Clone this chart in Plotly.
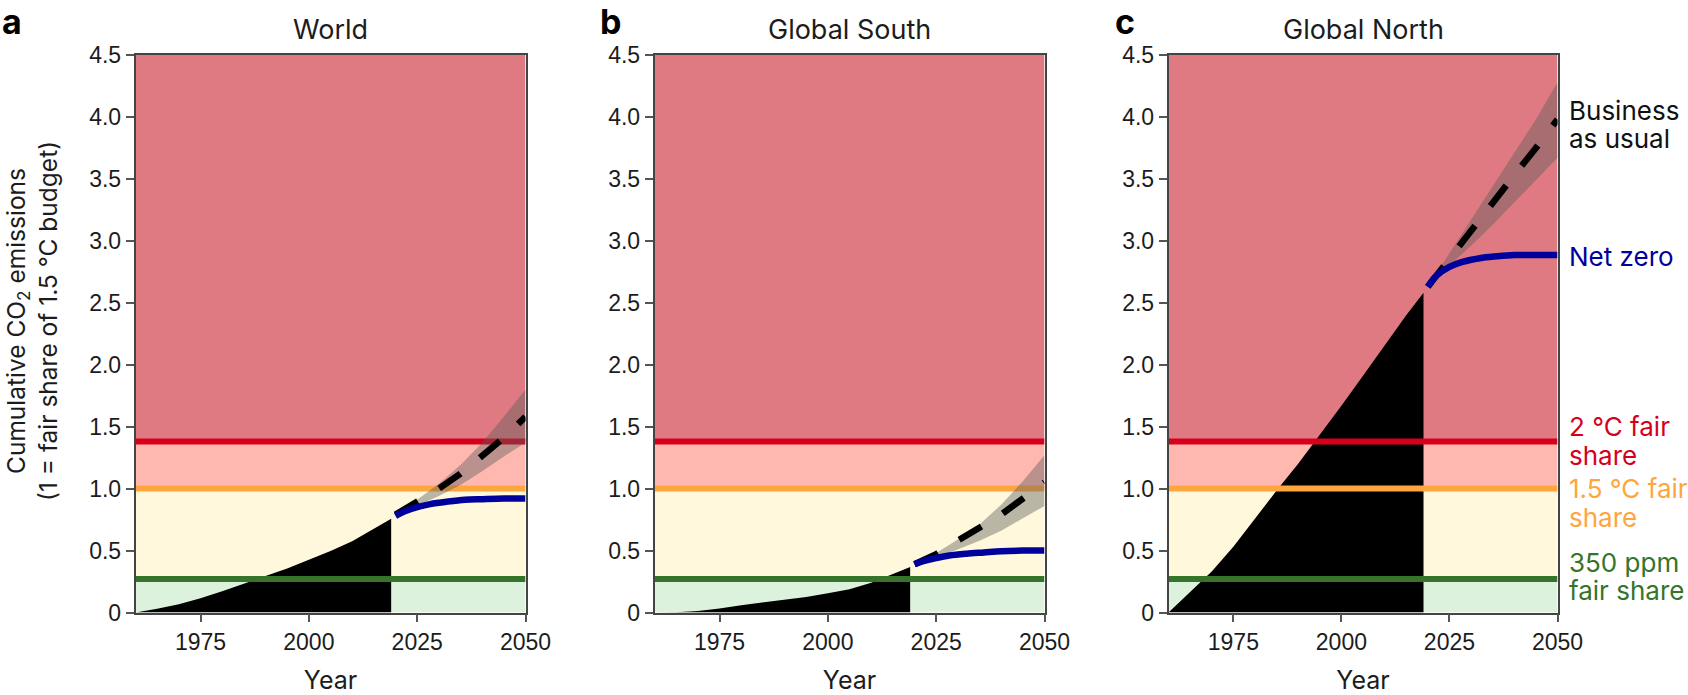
import plotly.graph_objects as go

# fair share levels (1 = 1.5 C budget)
level_350ppm = 0.27
level_15c = 1.0
level_2c = 1.38
y_max = 4.5

panel_titles = ["World", "Global South", "Global North"]
panel_letters = ["a", "b", "c"]

hist_years = [1960, 1965, 1970, 1975, 1980, 1985, 1990, 1995, 2000, 2005, 2010, 2015, 2019]
hist_world = [0, 0.03, 0.067, 0.115, 0.172, 0.233, 0.292, 0.355, 0.425, 0.496, 0.576, 0.675, 0.756]
hist_south = [0, 0.002, 0.013, 0.032, 0.059, 0.08, 0.1, 0.126, 0.155, 0.188, 0.241, 0.314, 0.367]
hist_north = [0, 0.166, 0.33, 0.53, 0.756, 0.984, 1.2, 1.43, 1.668, 1.91, 2.16, 2.4, 2.58]

fut_years = [2020, 2025, 2030, 2035, 2040, 2045, 2050]
bau_world = [0.79, 0.89, 1.0, 1.12, 1.26, 1.41, 1.58]
bau_low_world = [0.79, 0.86, 0.94, 1.03, 1.14, 1.26, 1.37]
bau_high_world = [0.79, 0.91, 1.04, 1.19, 1.37, 1.58, 1.8]
bau_south = [0.39, 0.47, 0.58, 0.68, 0.79, 0.92, 1.05]
bau_low_south = [0.39, 0.44, 0.51, 0.58, 0.66, 0.76, 0.86]
bau_high_south = [0.39, 0.48, 0.59, 0.71, 0.87, 1.06, 1.27]
bau_north = [2.63, 2.86, 3.07, 3.3, 3.53, 3.75, 3.98]
bau_low_north = [2.63, 2.8, 2.96, 3.13, 3.31, 3.49, 3.67]
bau_high_north = [2.63, 2.9, 3.16, 3.43, 3.7, 3.98, 4.28]

net_years = [2020, 2022, 2025, 2028, 2032, 2036, 2040, 2045, 2050]
net_world = [0.78, 0.815, 0.85, 0.875, 0.895, 0.91, 0.915, 0.92, 0.92]
net_south = [0.39, 0.415, 0.44, 0.46, 0.475, 0.485, 0.495, 0.5, 0.5]
net_north = [2.63, 2.72, 2.79, 2.83, 2.86, 2.875, 2.885, 2.885, 2.885]

hist_all = [hist_world, hist_south, hist_north]
bau_all = [bau_world, bau_south, bau_north]
bau_low_all = [bau_low_world, bau_low_south, bau_low_north]
bau_high_all = [bau_high_world, bau_high_south, bau_high_north]
net_all = [net_world, net_south, net_north]

x_ticks = [1975, 2000, 2025, 2050]
y_ticks = [0, 0.5, 1, 1.5, 2, 2.5, 3, 3.5, 4, 4.5]

WIDTH, HEIGHT = 1688, 695
FONT = "Inter"
TICK_FONT = "Liberation Sans"
TEXT_COL = "#1c1c1c"
panel_px = [(135.5, 525.5), (654.5, 1044.5), (1168.5, 1557.5)]
top_px, bottom_px = 55, 612.5

fig = go.Figure()

for i in range(3):
    ax = "" if i == 0 else str(i + 1)
    xa, ya = "x" + ax, "y" + ax

    # background bands
    bands = [
        (0, level_350ppm, "#DDF2DC"),
        (level_350ppm, level_15c, "#FFF8DD"),
        (level_15c, level_2c, "#FFB8B0"),
        (level_2c, y_max, "#DF7A82"),
    ]
    for y0, y1, col in bands:
        fig.add_shape(type="rect", xref=xa, yref=ya, x0=1960, x1=2050, y0=y0, y1=y1,
                      fillcolor=col, line_width=0, layer="below")

    # historical cumulative emissions
    fig.add_trace(go.Scatter(x=hist_years, y=hist_all[i], mode="lines", fill="tozeroy",
                             fillcolor="black", line=dict(color="black", width=0),
                             xaxis=xa, yaxis=ya))

    # fair share lines
    for lev, col in [(level_350ppm, "#36742B"), (level_15c, "#FFA53E"), (level_2c, "#D7001C")]:
        fig.add_trace(go.Scatter(x=[1960, 2050], y=[lev, lev], mode="lines",
                                 line=dict(color=col, width=6), xaxis=xa, yaxis=ya))

    # business as usual range and central line
    fig.add_trace(go.Scatter(x=fut_years + fut_years[::-1],
                             y=bau_high_all[i] + bau_low_all[i][::-1],
                             mode="lines", fill="toself", fillcolor="rgba(90,90,90,0.42)",
                             line=dict(width=0), xaxis=xa, yaxis=ya))
    fig.add_trace(go.Scatter(x=fut_years, y=bau_all[i], mode="lines",
                             line=dict(color="black", width=6.5, dash="26px,25px"),
                             xaxis=xa, yaxis=ya))
    fig.add_trace(go.Scatter(x=net_years, y=net_all[i], mode="lines",
                             line=dict(color="#00009C", width=6.5, shape="spline"),
                             xaxis=xa, yaxis=ya))

    x0, x1 = panel_px[i]
    axis_common = dict(showgrid=False, zeroline=False, showline=True, linecolor="#444",
                       linewidth=1.5, mirror=True, ticks="outside", ticklen=8, tickcolor="#555",
                       tickwidth=1.5, tickfont=dict(family=TICK_FONT, size=23, color=TEXT_COL),
                       layer="above traces", automargin=False)
    fig.update_layout({
        "xaxis" + ax: dict(domain=[x0 / WIDTH, x1 / WIDTH], range=[1960, 2050], tickvals=x_ticks,
                           anchor=ya,
                           title=dict(text="Year", standoff=25, font=dict(family=FONT, size=25, color=TEXT_COL)),
                           **axis_common),
        "yaxis" + ax: dict(domain=[1 - bottom_px / HEIGHT, 1 - top_px / HEIGHT], range=[0, y_max],
                           tickvals=y_ticks, ticktext=[f"{v:.1f}" if v else "0" for v in y_ticks],
                           anchor=xa, **axis_common),
    })

    fig.add_annotation(text=panel_titles[i], xref=xa + " domain", yref="paper", x=0.5, y=1 - 29 / HEIGHT,
                       yanchor="middle", showarrow=False, font=dict(family=FONT, size=27, color=TEXT_COL))

for letter, px in zip(panel_letters, [0, 598, 1113]):
    fig.add_annotation(text="<b>" + letter + "</b>", xref="paper", yref="paper", x=px / WIDTH,
                       y=1 - 21.5 / HEIGHT, xanchor="left", yanchor="middle", showarrow=False,
                       font=dict(family=FONT, size=34, color="black"))

# y axis title lines, left of panel a
y_title_lines = [("Cumulative CO<sub>2</sub> emissions", 18), ("(1 = fair share of 1.5 °C budget)", 48)]
for text, x_px in y_title_lines:
    fig.add_annotation(text=text, xref="paper", yref="paper", x=x_px / WIDTH, y=1 - 321 / HEIGHT,
                       xanchor="center", yanchor="middle", textangle=-90, showarrow=False,
                       font=dict(family=FONT, size=24.5, color=TEXT_COL))

# direct labels, right of panel c
labels = [
    ("Business", 110.5, "#111"),
    ("as usual", 139, "#111"),
    ("Net zero", 256, "#00009C"),
    ("2 °C fair", 426.5, "#D7001C"),
    ("share", 455, "#D7001C"),
    ("1.5 °C fair", 488.5, "#FFA53E"),
    ("share", 517, "#FFA53E"),
    ("350 ppm", 562, "#36742B"),
    ("fair share", 590.5, "#36742B"),
]
for text, y_px, col in labels:
    fig.add_annotation(text=text, xref="paper", yref="paper", x=1567 / WIDTH, y=1 - y_px / HEIGHT,
                       xanchor="left", yanchor="middle", align="left", showarrow=False,
                       font=dict(family=FONT, size=26, color=col))

fig.update_layout(width=WIDTH, height=HEIGHT, margin=dict(l=0, r=0, t=0, b=0),
                  paper_bgcolor="white", plot_bgcolor="white", showlegend=False)

fig.write_html("out.html", config={"displayModeBar": False},
               post_script="document.body.style.margin='0';document.body.style.overflow='hidden';")
